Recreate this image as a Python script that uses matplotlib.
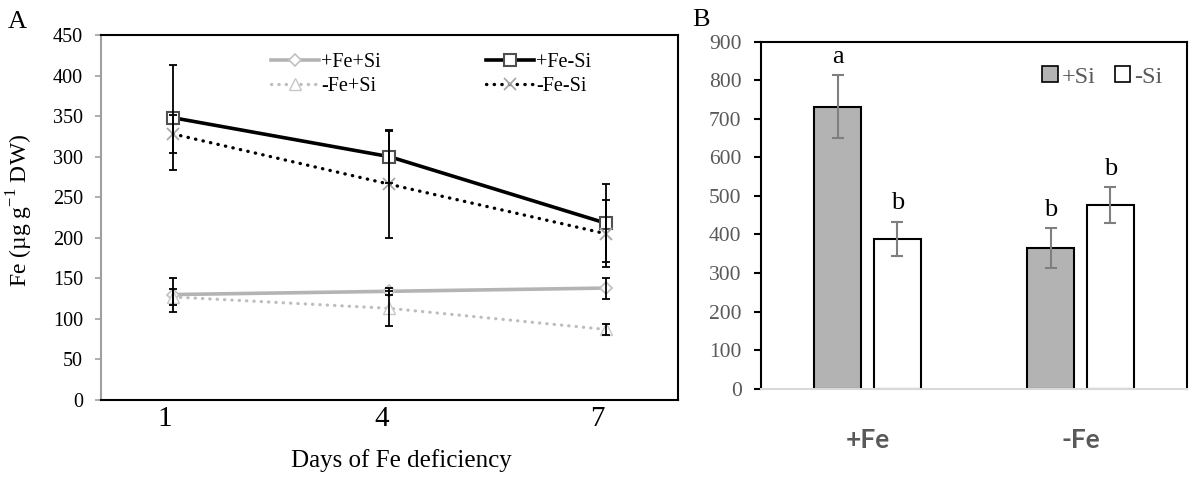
import numpy as np
import matplotlib
matplotlib.use('Agg')
import matplotlib.pyplot as plt
import matplotlib.transforms as mtransforms
from matplotlib.patches import Patch

plt.rcParams['font.family'] = 'Liberation Serif'
plt.rcParams['mathtext.fontset'] = 'custom'
plt.rcParams['mathtext.rm'] = 'Liberation Serif'

# ---- Panel A data: Fe content over days of Fe deficiency ----
days = [1, 4, 7]
fe_p_si_p = [130, 134, 138]
fe_p_si_p_err = [21, 4, 13]
fe_m_si_p = [127, 113, 87]
fe_m_si_p_err = [10, 22, 7]
fe_p_si_m = [348, 300, 218]
fe_p_si_m_err = [65, 33, 48]
fe_m_si_m = [328, 266, 205]
fe_m_si_m_err = [23, 66, 41]

# ---- Panel B data ----
groups = ['+Fe', '-Fe']
plus_si = [731, 365]
plus_si_err = [82, 51]
minus_si = [388, 477]
minus_si_err = [45, 46]
letters_plus = ['a', 'b']
letters_minus = ['b', 'b']

fig = plt.figure(figsize=(11.91, 4.84), dpi=100)

# ================= Panel A =================
ax = fig.add_axes([101/1191, 84/484, 577/1191, 365/484])

dot = (0, (0.1, 2.2))
ax.plot(days, fe_p_si_p, color='#b4b4b4', lw=2.6, marker='D', ms=6,
        mfc='white', mec='#c0c0c0', mew=1.2, label='+Fe+Si', zorder=3)
ax.plot(days, fe_m_si_p, color='#bdbdbd', lw=2.3, ls=dot, dash_capstyle='round',
        marker='^', ms=8, mfc='white', mec='#c8c8c8', mew=1.0, label='-Fe+Si', zorder=3)
ax.plot(days, fe_p_si_m, color='black', lw=2.6, marker='s', ms=9,
        mfc='white', mec='#505050', mew=1.5, label='+Fe-Si', zorder=3)
ax.plot(days, fe_m_si_m, color='black', lw=2.4, ls=dot, dash_capstyle='round',
        marker='x', ms=8, mec='#a8a8a8', mew=1.3, label='-Fe-Si', zorder=3)

for vals, errs in [(fe_p_si_p, fe_p_si_p_err), (fe_m_si_p, fe_m_si_p_err),
                   (fe_p_si_m, fe_p_si_m_err), (fe_m_si_m, fe_m_si_m_err)]:
    ax.errorbar(days, vals, yerr=errs, fmt='none', ecolor='black',
                elinewidth=1.3, capsize=3, capthick=1.3, zorder=4)

ax.set_xlim(0, 8)
ax.set_ylim(0, 450)
ax.set_yticks(np.arange(0, 451, 50))
ax.set_xticks(days)
ax.set_xticklabels([str(d) for d in days])
ax.tick_params(axis='y', length=4, width=1.2, color='#a0a0a0', pad=9,
               labelsize=14.5, labelcolor='black')
ax.tick_params(axis='x', length=0, pad=4, labelsize=21)
offset = mtransforms.ScaledTranslation(-8/100, 0, fig.dpi_scale_trans)
for lbl in ax.get_xticklabels():
    lbl.set_transform(lbl.get_transform() + offset)

for side in ['top', 'right', 'bottom']:
    ax.spines[side].set_color('black')
    ax.spines[side].set_linewidth(1.5)
ax.spines['left'].set_color('#a0a0a0')
ax.spines['left'].set_linewidth(1.5)

ax.set_xlabel('Days of Fe deficiency', fontsize=18)
ax.xaxis.set_label_coords(0.52, -0.135)
ax.set_ylabel(r'Fe (µg g$^{\mathrm{-1}}$ DW)', fontsize=17)
ax.yaxis.set_label_coords(-0.115, 0.52)

ax.legend(ncol=2, loc='upper left', bbox_to_anchor=(0.27, 0.99), frameon=False,
          fontsize=14.5, handlelength=2.4, columnspacing=5.2, labelspacing=0.25,
          handletextpad=0.1, borderpad=0.2, numpoints=1)

fig.text(8/1191, 1 - 22/484, 'A', fontsize=19, va='center', ha='left')

# ================= Panel B =================
bx = fig.add_axes([761/1191, (484 - 388.7)/484, 426/1191, 347/484])
x = np.arange(len(groups))
w = 0.22
off = 0.14
bx.bar(x - off, plus_si, width=w, color='#b3b3b3', edgecolor='black', lw=1.5,
       label='+Si', zorder=2)
bx.bar(x + off, minus_si, width=w, color='white', edgecolor='black', lw=1.5,
       label='-Si', zorder=2)
bx.errorbar(x - off, plus_si, yerr=plus_si_err, fmt='none', ecolor='#7f7f7f',
            elinewidth=1.5, capsize=4.3, capthick=1.5, zorder=3)
bx.errorbar(x + off, minus_si, yerr=minus_si_err, fmt='none', ecolor='#7f7f7f',
            elinewidth=1.5, capsize=4.3, capthick=1.5, zorder=3)

for xi, v, e, t in zip(x - off, plus_si, plus_si_err, letters_plus):
    bx.annotate(t, (xi, v + e), xytext=(0, 9), textcoords='offset points',
                ha='center', va='baseline', fontsize=19)
for xi, v, e, t in zip(x + off, minus_si, minus_si_err, letters_minus):
    bx.annotate(t, (xi, v + e), xytext=(0, 9), textcoords='offset points',
                ha='center', va='baseline', fontsize=19)

bx.set_xlim(-0.5, 1.5)
bx.set_ylim(0, 900)
bx.set_yticks(np.arange(0, 901, 100))
bx.set_xticks(x)
bx.set_xticklabels(groups, fontfamily='Lato', fontweight='bold', color='#595959')
bx.tick_params(axis='x', length=0, pad=28, labelsize=19)
bx.tick_params(axis='y', length=5, width=1.5, pad=9, labelsize=15.5,
               labelcolor='#595959', color='black')
for side in ['top', 'right', 'left']:
    bx.spines[side].set_color('black')
    bx.spines[side].set_linewidth(1.5)
bx.spines['bottom'].set_color('#d9d9d9')
bx.spines['bottom'].set_linewidth(1.5)

handles = [Patch(facecolor='#b3b3b3', edgecolor='black', lw=1.2),
           Patch(facecolor='white', edgecolor='black', lw=1.2)]
leg = bx.legend(handles, ['+Si', '-Si'], ncol=2, loc='center left',
                bbox_to_anchor=(0.625, 0.898), frameon=False, fontsize=17.5,
                handlelength=0.65, handleheight=0.65, handletextpad=0.15,
                columnspacing=0.8, borderpad=0.1)
for t in leg.get_texts():
    t.set_color('#595959')

fig.text(692/1191, 1 - 20/484, 'B', fontsize=19, va='center', ha='left')

fig.savefig('out.png', dpi=100)
